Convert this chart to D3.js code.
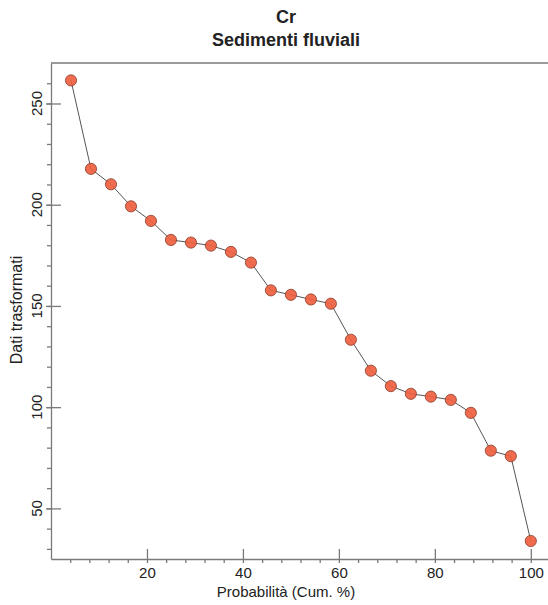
<!DOCTYPE html>
<html>
<head>
<meta charset="utf-8">
<script src="https://cdn.jsdelivr.net/npm/d3@7"></script>
<style>
  body { margin: 0; background: #fff; }
  svg text { font-family: Arial, "Liberation Sans", sans-serif; fill: #222; }
</style>
</head>
<body>
<div id="chart"></div>
<script>
// ==================================================
// DATA
// ==================================================

// Cumulative probability (%)
var probValues = [4.17, 8.33, 12.5, 16.67, 20.83, 25, 29.17, 33.33, 37.5, 41.67, 45.83, 50,
                  54.17, 58.33, 62.5, 66.67, 70.83, 75, 79.17, 83.33, 87.5, 91.67, 95.83, 100];

// Transformed data
var dataValues = [261.4, 217.7, 210.1, 199.2, 192.0, 182.6, 181.3, 179.8, 176.7, 171.4, 157.7, 155.5,
                  153.2, 151.1, 133.3, 118.0, 110.4, 106.6, 105.2, 103.6, 97.2, 78.5, 75.8, 33.9];

var xTicks      = [20, 40, 60, 80, 100];
var yTicks      = [50, 100, 150, 200, 250];
var xMinorTicks = d3.range(4, 101, 4);
var yMinorTicks = d3.range(30, 261, 10);

var titleLines = ["Cr", "Sedimenti fluviali"];


// ==================================================
// CANVAS
// ==================================================
var width  = 548;
var height = 605;

var svg = d3.select("#chart")
	.append("svg")
		.attr("width", width)
		.attr("height", height);

// Scales
var x = d3.scaleLinear()
	.domain([0, 104])
	.range([51, 550]);

var y = d3.scaleLinear()
	.domain([25, 270])
	.range([559, 63]);

var axisColor = "#7a7a7a";


// ==================================================
// AXES
// ==================================================

// X minor ticks (outside)
svg.append("g")
	.attr("class", "x axis minor")
	.attr("transform", "translate(0," + y(25) + ")")
	.call(d3.axisBottom(x).tickValues(xMinorTicks).tickSize(4).tickFormat(""));

// X major ticks (inside) + labels
svg.append("g")
	.attr("class", "x axis major")
	.attr("transform", "translate(0," + y(25) + ")")
	.call(d3.axisBottom(x).tickValues(xTicks).tickSizeInner(-10).tickSizeOuter(0).tickPadding(8).tickFormat(d3.format("d")));

// Y minor ticks (outside)
svg.append("g")
	.attr("class", "y axis minor")
	.attr("transform", "translate(" + x(0) + ",0)")
	.call(d3.axisLeft(y).tickValues(yMinorTicks).tickSize(4).tickFormat(""));

// Y major ticks (inside + outside)
var yMajor = svg.append("g")
	.attr("class", "y axis major")
	.attr("transform", "translate(" + x(0) + ",0)")
	.call(d3.axisLeft(y).tickValues(yTicks).tickSizeInner(-10).tickSizeOuter(0).tickFormat(""));

yMajor.selectAll(".tick").append("line")
	.attr("x1", -5)
	.attr("x2", 0);

// Rotated y labels
svg.append("g")
	.selectAll("text")
	.data(yTicks)
	.enter()
	.append("text")
		.attr("transform", function(d) { return "translate(42," + y(d) + ") rotate(-90)"; })
		.attr("text-anchor", "middle")
		.attr("font-size", "15px")
		.text(function(d) { return d; });

// Top frame line
svg.append("line")
	.attr("x1", x(0))
	.attr("x2", width)
	.attr("y1", y(270))
	.attr("y2", y(270))
	.attr("stroke", axisColor)
	.attr("stroke-width", 1.6);

svg.selectAll(".axis path, .axis line")
	.attr("stroke", axisColor)
	.attr("stroke-width", 1.3);

svg.selectAll(".x.axis.major text")
	.attr("font-size", "15px")
	.attr("fill", "#222")
	.attr("font-family", "Arial, 'Liberation Sans', sans-serif");

// Minor axes: hide domain paths to avoid double lines
svg.selectAll(".minor path").remove();


// ==================================================
// LABELS
// ==================================================
svg.append("text")
	.attr("x", 286)
	.attr("y", 597)
	.attr("text-anchor", "middle")
	.attr("font-size", "15px")
	.text("Probabilità (Cum. %)");

svg.append("text")
	.attr("transform", "translate(22,310) rotate(-90)")
	.attr("text-anchor", "middle")
	.attr("font-size", "16px")
	.text("Dati trasformati");

svg.selectAll(".title")
	.data(titleLines)
	.enter()
	.append("text")
		.attr("class", "title")
		.attr("x", 286)
		.attr("y", function(d, i) { return 23 + i * 23; })
		.attr("text-anchor", "middle")
		.attr("font-size", "18px")
		.attr("font-weight", "bold")
		.text(function(d) { return d; });


// ==================================================
// SERIES
// ==================================================
var points = probValues.map(function(p, i) {
	return { prob: p, value: dataValues[i] };
});

var line = d3.line()
	.x(function(d) { return x(d.prob); })
	.y(function(d) { return y(d.value); });

svg.append("path")
	.datum(points)
	.attr("fill", "none")
	.attr("stroke", "#555")
	.attr("stroke-width", 1)
	.attr("d", line);

svg.selectAll("circle")
	.data(points)
	.enter()
	.append("circle")
		.attr("cx", function(d) { return x(d.prob); })
		.attr("cy", function(d) { return y(d.value); })
		.attr("r", 5.6)
		.attr("fill", "#ef5f40")
		.attr("fill-opacity", 0.92)
		.attr("stroke", "#8a3a2a")
		.attr("stroke-width", 0.8);
</script>
</body>
</html>
